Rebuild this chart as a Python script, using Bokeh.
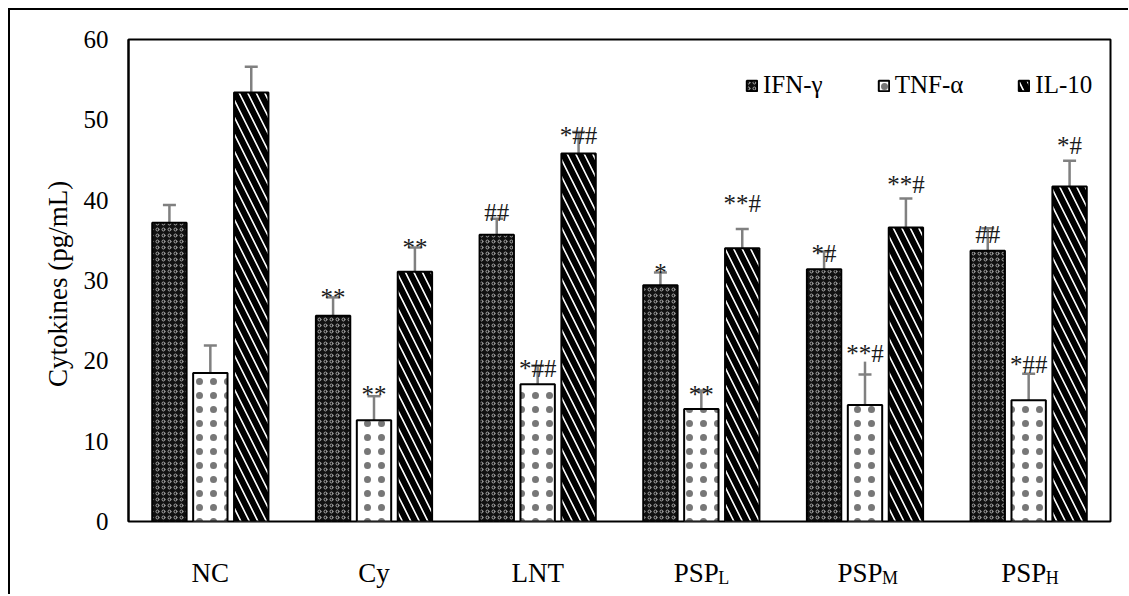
from bokeh.plotting import figure
from bokeh.layouts import column
from bokeh.models import ColumnDataSource, Legend, LegendItem, FixedTicker, Range1d
from bokeh.transform import dodge
from bokeh.embed import file_html
from bokeh.resources import INLINE
from bokeh.core.properties import value

# ---------------- data ----------------
groups = ["NC", "Cy", "LNT", "PSP_L", "PSP_M", "PSP_H"]
group_text = ["NC", "Cy", "LNT", "PSP", "PSP", "PSP"]
group_sub = ["", "", "", "L", "M", "H"]
series = ["IFN-γ", "TNF-α", "IL-10"]

ifn = [37.2, 25.6, 35.7, 29.4, 31.4, 33.7]
ifn_err = [2.2, 2.3, 2.0, 1.6, 2.2, 2.8]
tnf = [18.5, 12.6, 17.1, 14.0, 14.5, 15.1]
tnf_err = [3.4, 3.0, 2.3, 2.3, 3.8, 3.3]
tnf_stem_extra = [0, 0, 0, 0, 1.6, 0]
il10 = [53.4, 31.1, 45.8, 34.0, 36.6, 41.7]
il10_err = [3.2, 3.0, 2.7, 2.4, 3.6, 3.2]

sig_ifn = ["", "**", "##", "*", "*#", "##"]
sig_tnf = ["", "**", "*##", "**", "**#", "*##"]
sig_il10 = ["", "**", "*##", "**#", "**#", "*#"]
sig_ifn_y = [0, 27.9, 38.5, 31.0, 33.4, 35.75]
sig_tnf_y = [0, 15.75, 19.0, 15.75, 20.9, 19.5]
sig_il10_y = [0, 34.1, 48.0, 39.6, 42.0, 46.8]

FONT = "Liberation Serif"
BORDER_L = {"border-left": "2px solid black"}
BORDER_LT = {"border-left": "2px solid black", "border-top": "2px solid black"}

p = figure(x_range=groups, y_range=(0, 60), frame_width=980, frame_height=480,
           min_border_left=118, min_border_right=20, min_border_top=29, min_border_bottom=22,
           output_backend="svg", toolbar_location=None)
p.styles = BORDER_LT

offsets = [-0.25, 0.0, 0.25]
vals = [ifn, tnf, il10]
errs = [ifn_err, tnf_err, il10_err]
extras = [[0] * 6, tnf_stem_extra, [0] * 6]
sigs = [sig_ifn, sig_tnf, sig_il10]
sig_ys = [sig_ifn_y, sig_tnf_y, sig_il10_y]
styles = [
    dict(fill_color="#111111", hatch_pattern="ring", hatch_color="#a8a8a8", hatch_scale=6, hatch_weight=1),
    dict(fill_color="white", hatch_pattern="dot", hatch_color="#777777", hatch_scale=14, hatch_weight=1),
    dict(fill_color="white", hatch_pattern="left_diagonal_line", hatch_color="black", hatch_scale=17, hatch_weight=6),
]

items = []
for i in range(3):
    top = [v + e for v, e in zip(vals[i], errs[i])]
    stem = [t + x for t, x in zip(top, extras[i])]
    src = ColumnDataSource(dict(cat=groups, val=vals[i], top=top, stem=stem,
                                sig=sigs[i], sig_y=sig_ys[i]))
    xd = dodge("cat", offsets[i], range=p.x_range)
    p.segment(x0=xd, x1=xd, y0="val", y1="stem", source=src, line_color="#808080", line_width=2.5)
    p.scatter(x=xd, y="top", source=src, marker="dash", size=13, line_color="#808080", line_width=2.5)
    r = p.vbar(x=xd, top="val", width=0.21, source=src, line_color="black", line_width=2, **styles[i])
    items.append(LegendItem(label=series[i], renderers=[r]))
    p.text(x=xd, y="sig_y", text="sig", source=src, text_align="center", text_baseline="alphabetic",
           text_font=value(FONT), text_font_size="25px", text_color="#1a1a1a")

legend = Legend(items=items, orientation="horizontal", location=(617, 422),
                label_text_font=FONT, label_text_font_size="25px", label_text_color="black",
                glyph_width=13, glyph_height=13, label_standoff=5, spacing=54,
                padding=0, margin=0, border_line_color=None, background_fill_alpha=0,
                label_height=24)
p.add_layout(legend, "center")

p.xaxis.visible = False
p.yaxis.ticker = FixedTicker(ticks=[0, 10, 20, 30, 40, 50, 60])
p.yaxis.major_tick_line_color = None
p.yaxis.major_tick_out = 0
p.yaxis.major_tick_in = 0
p.yaxis.minor_tick_line_color = None
p.yaxis.axis_line_color = "black"
p.yaxis.axis_line_width = 2
p.yaxis.major_label_standoff = 20
p.yaxis.major_label_text_font = FONT
p.yaxis.major_label_text_font_size = "25px"
p.yaxis.major_label_text_color = "black"
p.yaxis.axis_label = "Cytokines  (pg/mL)"
p.yaxis.axis_label_text_font = FONT
p.yaxis.axis_label_text_font_size = "27px"
p.yaxis.axis_label_text_font_style = "normal"
p.yaxis.axis_label_text_color = "black"
p.yaxis.axis_label_standoff = 8

p.xgrid.grid_line_color = None
p.ygrid.grid_line_color = None
p.outline_line_color = "black"
p.outline_line_width = 2
p.background_fill_color = "white"
p.border_fill_color = "white"

# ---- category labels strip (shares the x range) ----
p2 = figure(x_range=p.x_range, y_range=Range1d(-53, 0), frame_width=980, frame_height=53,
            min_border_left=118, min_border_right=20, min_border_top=0, min_border_bottom=0,
            output_backend="svg", toolbar_location=None)
p2.styles = BORDER_L
p2.xaxis.visible = False
p2.yaxis.visible = False
p2.xgrid.grid_line_color = None
p2.ygrid.grid_line_color = None
p2.outline_line_color = None
p2.background_fill_color = "white"
p2.border_fill_color = "white"

plain_src = ColumnDataSource(dict(cat=groups[:3], txt=group_text[:3]))
psp_src = ColumnDataSource(dict(cat=groups[3:], txt=group_text[3:], sub=group_sub[3:]))
p2.text(x="cat", y=-31, text="txt", source=plain_src, text_align="center", text_baseline="alphabetic",
        text_font=value(FONT), text_font_size="27px", text_color="black")
p2.text(x="cat", y=-31, text="txt", source=psp_src, x_offset=-5, text_align="center",
        text_baseline="alphabetic", text_font=value(FONT), text_font_size="27px", text_color="black")
p2.text(x="cat", y=-36, text="sub", source=psp_src, x_offset=17, text_align="left",
        text_baseline="alphabetic", text_font=value(FONT), text_font_size="18px", text_color="black")

layout = column(p, p2, spacing=0)
layout.margin = (8, 0, 0, 8)

open("out.html", "w").write(file_html(layout, INLINE))
